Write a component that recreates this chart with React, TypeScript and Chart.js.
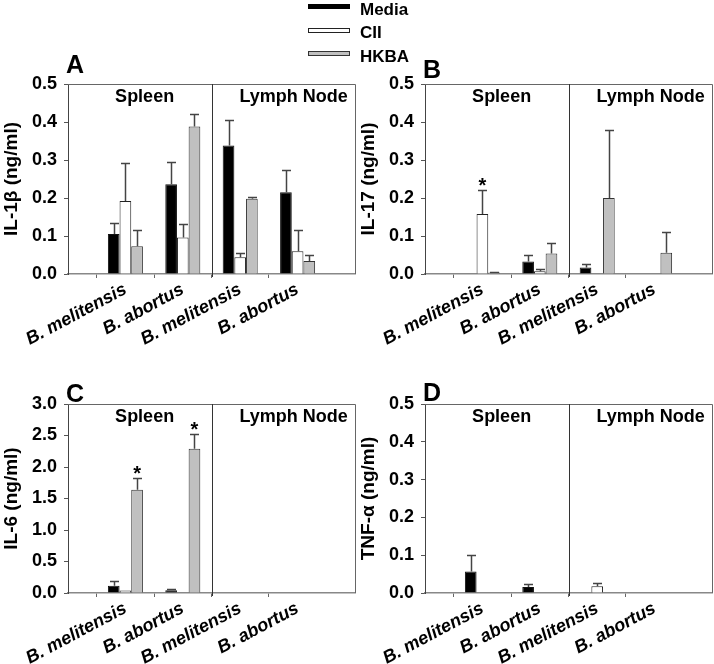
import React, { useEffect, useRef } from 'react';
import { Chart, registerables } from 'chart.js';

Chart.register(...registerables);

const FONT = '"Liberation Sans", Arial, Helvetica, sans-serif';

// ---- data ----
const CATEGORIES = ['B. melitensis', 'B. abortus', 'B. melitensis', 'B. abortus'];
const REGIONS = ['Spleen', 'Lymph Node'];
const SERIES = ['Media', 'CII', 'HKBA'];

// Panel A: IL-1β (ng/ml)
const IL1B_MEDIA = [0.105, 0.236, 0.338, 0.215];
const IL1B_MEDIA_ERR = [0.029, 0.06, 0.066, 0.058];
const IL1B_CII = [0.192, 0.096, 0.044, 0.06];
const IL1B_CII_ERR = [0.1, 0.036, 0.01, 0.056];
const IL1B_HKBA = [0.073, 0.388, 0.198, 0.034];
const IL1B_HKBA_ERR = [0.044, 0.032, 0.004, 0.016];

// Panel B: IL-17 (ng/ml)
const IL17_MEDIA = [0, 0.033, 0.017, 0];
const IL17_MEDIA_ERR = [0, 0.018, 0.01, 0];
const IL17_CII = [0.158, 0.007, 0, 0];
const IL17_CII_ERR = [0.064, 0.005, 0, 0];
const IL17_HKBA = [0.004, 0.054, 0.2, 0.056];
const IL17_HKBA_ERR = [0.002, 0.027, 0.18, 0.054];

// Panel C: IL-6 (ng/ml)
const IL6_MEDIA = [0.116, 0.042, 0, 0];
const IL6_MEDIA_ERR = [0.069, 0.016, 0, 0];
const IL6_CII = [0.04, 0, 0, 0];
const IL6_CII_ERR = [0, 0, 0, 0];
const IL6_HKBA = [1.64, 2.29, 0, 0];
const IL6_HKBA_ERR = [0.184, 0.227, 0, 0];

// Panel D: TNF-α (ng/ml)
const TNF_MEDIA = [0.057, 0.016, 0, 0];
const TNF_MEDIA_ERR = [0.044, 0.008, 0, 0];
const TNF_CII = [0, 0, 0.018, 0];
const TNF_CII_ERR = [0, 0, 0.009, 0];
const TNF_HKBA = [0, 0, 0, 0];
const TNF_HKBA_ERR = [0, 0, 0, 0];

// significance stars: [category index, series index]
const IL17_STARS: [number, number][] = [[0, 1]];
const IL6_STARS: [number, number][] = [[0, 2], [1, 2]];

const Y_TICKS_05 = { max: 0.5, step: 0.1 };
const Y_TICKS_3 = { max: 3.0, step: 0.5 };

// ---- styles ----
const FILLS = ['#000000', '#ffffff', '#c0c0c0'];
const BORDERS = ['#111111', '#222222', '#333333'];

type Panel = {
  letter: string;
  title: string;
  max: number;
  step: number;
  values: number[][];
  errors: number[][];
  stars: [number, number][];
  left: number;
  top: number;
  width: number;
  height: number;
  padTop: number;
  xHeight: number;
  letterDy: number;
};

const PANELS: Panel[] = [
  {
    letter: 'A', title: 'IL-1β (ng/ml)', ...Y_TICKS_05,
    values: [IL1B_MEDIA, IL1B_CII, IL1B_HKBA], errors: [IL1B_MEDIA_ERR, IL1B_CII_ERR, IL1B_HKBA_ERR],
    stars: [], left: 0, top: 0, width: 357, height: 345, padTop: 84, xHeight: 71, letterDy: -11,
  },
  {
    letter: 'B', title: 'IL-17 (ng/ml)', ...Y_TICKS_05,
    values: [IL17_MEDIA, IL17_CII, IL17_HKBA], errors: [IL17_MEDIA_ERR, IL17_CII_ERR, IL17_HKBA_ERR],
    stars: IL17_STARS, left: 357, top: 0, width: 357, height: 345, padTop: 84, xHeight: 71, letterDy: -6,
  },
  {
    letter: 'C', title: 'IL-6 (ng/ml)', ...Y_TICKS_3,
    values: [IL6_MEDIA, IL6_CII, IL6_HKBA], errors: [IL6_MEDIA_ERR, IL6_CII_ERR, IL6_HKBA_ERR],
    stars: IL6_STARS, left: 0, top: 345, width: 357, height: 319, padTop: 59, xHeight: 71, letterDy: -2.5,
  },
  {
    letter: 'D', title: 'TNF-α (ng/ml)', ...Y_TICKS_05,
    values: [TNF_MEDIA, TNF_CII, TNF_HKBA], errors: [TNF_MEDIA_ERR, TNF_CII_ERR, TNF_HKBA_ERR],
    stars: [], left: 357, top: 345, width: 357, height: 319, padTop: 59, xHeight: 71, letterDy: -3,
  },
];

function makeOverlay(p: Panel) {
  return {
    id: 'overlay' + p.letter,
    afterDatasetsDraw(chart: any) {
      const ctx = chart.ctx as CanvasRenderingContext2D;
      const { left, right, top, bottom } = chart.chartArea;
      const xs = chart.scales.x;
      const ys = chart.scales.y;
      ctx.save();
      // error bars (upper only)
      ctx.strokeStyle = '#444';
      ctx.lineWidth = 1.5;
      p.errors.forEach((errs, di) => {
        const meta = chart.getDatasetMeta(di);
        errs.forEach((e, ci) => {
          if (!e) return;
          const el = meta.data[ci + 1];
          if (!el) return;
          const v = p.values[di][ci];
          const x = Math.round(el.x) + 0.5;
          const y0 = ys.getPixelForValue(v);
          const y1 = Math.round(ys.getPixelForValue(v + e)) + 0.5;
          ctx.beginPath();
          ctx.moveTo(x, y0);
          ctx.lineTo(x, y1);
          ctx.moveTo(x - 4.5, y1);
          ctx.lineTo(x + 4.5, y1);
          ctx.stroke();
        });
      });
      // frame: top + right
      ctx.strokeStyle = '#666';
      ctx.lineWidth = 1;
      ctx.beginPath();
      ctx.moveTo(left, Math.round(top) + 0.5);
      ctx.lineTo(Math.round(right) + 0.5, Math.round(top) + 0.5);
      ctx.lineTo(Math.round(right) + 0.5, bottom);
      ctx.stroke();
      // divider between regions
      const dx = Math.round(xs.getPixelForValue(2.5)) + 0.5;
      ctx.strokeStyle = '#333';
      ctx.beginPath();
      ctx.moveTo(dx, top);
      ctx.lineTo(dx, bottom + 3);
      ctx.stroke();
      // region labels
      ctx.fillStyle = '#000';
      ctx.font = `bold 18px ${FONT}`;
      ctx.textAlign = 'center';
      ctx.textBaseline = 'alphabetic';
      const w = right - left;
      ctx.fillText(REGIONS[0], left + 0.267 * w, top + 18);
      ctx.fillText(REGIONS[1], left + 0.786 * w, top + 18);
      // stars
      ctx.font = `bold 20px ${FONT}`;
      p.stars.forEach(([ci, di]) => {
        const el = chart.getDatasetMeta(di).data[ci + 1];
        const v = p.values[di][ci] + p.errors[di][ci];
        ctx.fillText('*', el.x, ys.getPixelForValue(v) + 2);
      });
      // panel letter
      ctx.font = `bold 25px ${FONT}`;
      ctx.textAlign = 'left';
      ctx.fillText(p.letter, left - 2, top + p.letterDy);
      ctx.restore();
    },
  };
}

function PanelChart({ p }: { p: Panel }) {
  const ref = useRef<HTMLCanvasElement>(null);
  useEffect(() => {
    const labels = ['', ...CATEGORIES, ''];
    const pad = (a: number[]) => [null, ...a, null];
    const chart = new Chart(ref.current as HTMLCanvasElement, {
      type: 'bar',
      data: {
        labels,
        datasets: SERIES.map((s, i) => ({
          label: s,
          data: pad(p.values[i]) as any,
          backgroundColor: FILLS[i],
          borderColor: BORDERS[i],
          borderWidth: (c: any) => (c.raw ? 1 : 0),
          barPercentage: 1,
          categoryPercentage: 0.61,
        })),
      },
      options: {
        responsive: false,
        animation: false,
        events: [],
        layout: { padding: { left: 0, right: 2, top: p.padTop, bottom: 0 } },
        plugins: { legend: { display: false }, tooltip: { enabled: false } },
        scales: {
          x: {
            offset: false,
            grid: {
              display: true,
              drawOnChartArea: false,
              drawTicks: true,
              tickLength: 4,
              color: (c: any) => (c.index === 0 || c.index === 5 ? 'rgba(0,0,0,0)' : '#666'),
            },
            border: { display: true, color: '#888', width: 1.5 },
            ticks: {
              autoSkip: false,
              maxRotation: 28,
              minRotation: 28,
              padding: 1,
              color: '#000',
              font: { family: FONT, size: 18, weight: 'bold', style: 'italic' },
            },
            afterFit: (s: any) => {
              s.height = p.xHeight;
              s.paddingLeft = 0;
              s.paddingRight = 0;
            },
          },
          y: {
            min: 0,
            max: p.max,
            ticks: {
              stepSize: p.step,
              padding: 7,
              color: '#000',
              font: { family: FONT, size: 18, weight: 'bold' },
              callback: (v: any) => Number(v).toFixed(1),
            },
            grid: { display: true, drawOnChartArea: false, drawTicks: true, tickLength: 4, color: '#555' },
            border: { display: true, color: '#444', width: 1 },
            title: {
              display: true,
              text: p.title,
              color: '#000',
              font: { family: FONT, size: 19, weight: 'bold' },
              padding: { top: 0, bottom: 0 },
            },
            afterFit: (s: any) => {
              s.width = 68;
              s.paddingTop = 0;
              s.paddingBottom = 0;
            },
          },
        },
      } as any,
      plugins: [makeOverlay(p)],
    });
    return () => chart.destroy();
  }, [p]);
  return (
    <canvas
      ref={ref}
      width={p.width}
      height={p.height}
      style={{ position: 'absolute', left: p.left, top: p.top, width: p.width, height: p.height }}
    />
  );
}

const LEGEND_BORDERS = ['#000', '#222', '#333'];

export default function App() {
  return (
    <div
      style={{
        position: 'fixed',
        left: 0,
        top: 0,
        width: 714,
        height: 664,
        background: '#fff',
        overflow: 'hidden',
        fontFamily: FONT,
      }}
    >
      {PANELS.map((p) => (
        <PanelChart key={p.letter} p={p} />
      ))}
      {SERIES.map((s, i) => (
        <React.Fragment key={s}>
          <div
            style={{
              position: 'absolute',
              left: 308,
              top: 4 + i * 23.5,
              width: 42,
              height: 5,
              boxSizing: 'border-box',
              background: FILLS[i],
              border: `1px solid ${LEGEND_BORDERS[i]}`,
              zIndex: 2,
            }}
          />
          <div
            style={{
              position: 'absolute',
              left: 360,
              top: 0 + i * 23.3,
              fontSize: 17,
              lineHeight: '20px',
              fontWeight: 'bold',
              color: '#000',
              whiteSpace: 'nowrap',
              zIndex: 2,
            }}
          >
            {s}
          </div>
        </React.Fragment>
      ))}
    </div>
  );
}
